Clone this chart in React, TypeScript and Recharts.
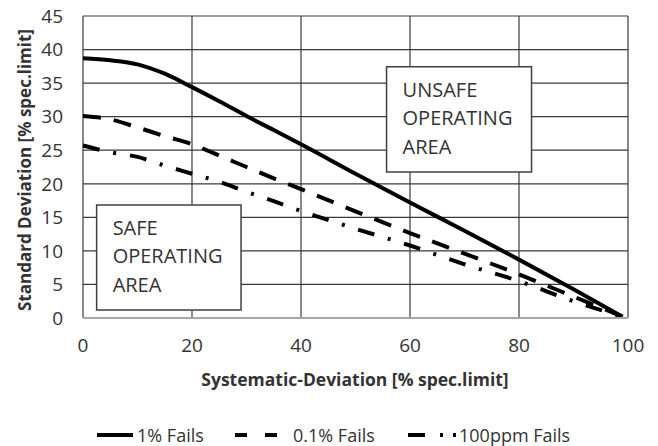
import React from "react";
import {
  LineChart,
  Line,
  XAxis,
  YAxis,
  CartesianGrid,
  Legend,
  ReferenceArea,
} from "recharts";

// systematic deviation [% spec.limit]
const xValues = [0, 5, 10, 15, 20, 25, 30, 35, 40, 50, 60, 70, 80, 90, 99];
// standard deviation [% spec.limit] per curve
const fails1pct = [38.7, 38.4, 37.8, 36.4, 34.4, 32.3, 30.1, 28.0, 25.9, 21.5, 17.2, 13.0, 8.7, 4.3, 0.2];
const fails01pct = [30.1, 29.6, 28.4, 27.1, 25.9, 24.2, 22.5, 20.8, 19.2, 15.9, 12.65, 9.6, 6.5, 3.2, 0.2];
const fails100ppm = [25.7, 24.7, 24.0, 22.7, 21.5, 20.3, 18.8, 17.4, 15.95, 13.3, 10.8, 8.0, 5.5, 2.5, 0.2];

const xTicks = [0, 20, 40, 60, 80, 100];
const yTicks = [0, 5, 10, 15, 20, 25, 30, 35, 40, 45];

const safeLines = ["SAFE", "OPERATING", "AREA"];
const unsafeLines = ["UNSAFE", "OPERATING", "AREA"];

const data = xValues.map((x, i) => ({
  x,
  a: fails1pct[i],
  b: fails01pct[i],
  c: fails100ppm[i],
}));

const FONT = "'Open Sans', sans-serif";
const TEXT = "#333";

const series = [
  { key: "a", name: "1% Fails", dash: undefined, swatch: { left: 97, w: 36, gap: 4, dash: undefined } },
  { key: "b", name: "0.1% Fails", dash: "18 13", swatch: { left: 235, w: 42, gap: 16, dash: "12 18" } },
  { key: "c", name: "100ppm Fails", dash: "17 14 3 14", swatch: { left: 408, w: 49, gap: 2, dash: "17 15 3 10 3" } },
];

function BoxLabel(props: any) {
  const { viewBox, lines } = props;
  if (!viewBox) return null;
  return (
    <g>
      {lines.map((t: string, i: number) => (
        <text
          key={t + i}
          x={viewBox.x + 16}
          y={viewBox.y + 30 + i * 28.5}
          fontFamily={FONT}
          fontSize={20}
          fill={TEXT}
        >
          {t}
        </text>
      ))}
    </g>
  );
}

function YTitle(props: any) {
  const { viewBox } = props;
  if (!viewBox) return null;
  const cx = viewBox.x + 24;
  const cy = 170;
  return (
    <text
      x={cx}
      y={cy}
      transform={`rotate(-90 ${cx} ${cy})`}
      textAnchor="middle"
      dominantBaseline="central"
      fontFamily={FONT}
      fontWeight="bold"
      fontSize={17}
      fill={TEXT}
    >
      Standard Deviation [% spec.limit]
    </text>
  );
}

function XTitle(props: any) {
  const { viewBox } = props;
  if (!viewBox) return null;
  return (
    <text
      x={355}
      y={386}
      textAnchor="middle"
      fontFamily={FONT}
      fontWeight="bold"
      fontSize={17.5}
      fill={TEXT}
    >
      Systematic-Deviation [% spec.limit]
    </text>
  );
}

function LegendContent() {
  return (
    <div
      style={{
        position: "relative",
        height: 36,
        fontFamily: FONT,
        fontSize: 18,
        lineHeight: "18px",
        color: TEXT,
      }}
    >
      {series.map((s) => (
        <div
          key={s.key}
          style={{
            position: "absolute",
            left: s.swatch.left,
            top: 16,
            height: 18,
            display: "flex",
            alignItems: "center",
          }}
        >
          <svg width={s.swatch.w} height={10} style={{ marginRight: s.swatch.gap }}>
            <line
              x1={0}
              y1={5}
              x2={s.swatch.w}
              y2={5}
              stroke="#000"
              strokeWidth={4}
              strokeDasharray={s.swatch.dash}
            />
          </svg>
          <span style={{ whiteSpace: "nowrap" }}>{s.name}</span>
        </div>
      ))}
    </div>
  );
}

export default function App() {
  return (
    <div style={{ position: "absolute", left: 0, top: 0, width: 658, height: 446, background: "#fff" }}>
      <LineChart
        width={658}
        height={446}
        data={data}
        margin={{ top: 16, right: 30, left: 0, bottom: 0 }}
      >
        <CartesianGrid stroke="#3a3a3a" strokeWidth={1.2} />
        <XAxis
          dataKey="x"
          type="number"
          domain={[0, 100]}
          ticks={xTicks}
          height={92}
          tickLine={false}
          tickSize={6}
          tickMargin={15}
          axisLine={{ stroke: "#a6a6a6", strokeWidth: 2 }}
          tick={{ fill: TEXT, fontSize: 19, fontFamily: FONT }}
          label={<XTitle />}
        />
        <YAxis
          type="number"
          domain={[0, 45]}
          ticks={yTicks}
          width={83}
          tickLine={false}
          tickSize={6}
          tickMargin={14}
          axisLine={false}
          tick={{ fill: TEXT, fontSize: 19, fontFamily: FONT }}
          label={<YTitle />}
        />
        <ReferenceArea
          x1={2.5}
          x2={29}
          y1={1.19}
          y2={16.84}
          fill="#fff"
          fillOpacity={1}
          stroke="#404040"
          strokeWidth={1.5}
          label={<BoxLabel lines={safeLines} />}
        />
        <ReferenceArea
          x1={55.7}
          x2={82.3}
          y1={21.75}
          y2={37.45}
          fill="#fff"
          fillOpacity={1}
          stroke="#404040"
          strokeWidth={1.5}
          label={<BoxLabel lines={unsafeLines} />}
        />
        {series.map((s) => (
          <Line
            key={s.key}
            type="monotone"
            dataKey={s.key}
            name={s.name}
            stroke="#000"
            strokeWidth={4}
            strokeDasharray={s.dash}
            dot={false}
            activeDot={false}
            isAnimationActive={false}
          />
        ))}
        <Legend verticalAlign="bottom" content={<LegendContent />} />
      </LineChart>
    </div>
  );
}
